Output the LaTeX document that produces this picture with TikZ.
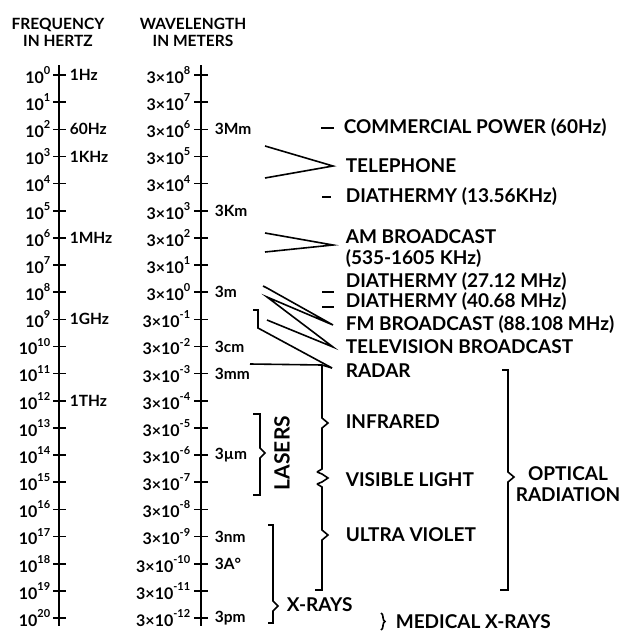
\documentclass[tikz,border=0pt]{standalone}
\usepackage{fontspec}
\setmainfont{Lato}
\usetikzlibrary{decorations.pathreplacing}
\newcommand\pw[1]{\raisebox{.55em}{\fontsize{11}{11}\selectfont#1}}

\begin{document}
\begin{tikzpicture}[x=1pt, y=-1pt, line width=1.6pt,
  axis/.style={line width=2.2pt},
  head/.style={font=\bfseries\fontsize{15.5}{17}\selectfont, align=center},
  num/.style={anchor=east, inner sep=0pt, font=\bfseries\fontsize{16}{16}\selectfont},
  unit/.style={anchor=west, inner sep=0pt, font=\bfseries\fontsize{15.5}{15}\selectfont},
  band/.style={anchor=west, inner sep=0pt, font=\bfseries\fontsize{19}{21}\selectfont}]
\useasboundingbox (0,0) rectangle (638,632);

% headings
\node[head] (fhead) at (58,32) {FREQUENCY\\IN HERTZ};
\node[head] (whead) at (193,32) {WAVELENGTH\\IN METERS};

% the two scales
\draw[axis] (59,65) -- (59,626);
\draw[axis] (201,65) -- (201,626);
\foreach \n in {0,...,20} {
  \pgfmathsetmacro\y{75+27.15*\n}
  \pgfmathtruncatemacro\e{8-\n}
  \draw (53,\y) -- (66,\y);
  \draw (194,\y) -- (208,\y);
  \node[num] (f\n) at (51,\y) {10\pw{\n}};
  \node[num] (w\n) at (191,\y) {3×10\pw{\e}};
}
\foreach \n/\t in {0/1Hz, 2/60Hz, 3/1KHz, 6/1MHz, 9/1GHz, 12/1THz}
  \node[unit] (fu\n) at ([xshift=18pt]f\n.east) {\t};
\foreach \n/\t in {2/3Mm, 5/3Km, 8/3m, 10/3cm, 11/3mm, 14/3µm, 17/3nm, 18/3A°, 20/3pm}
  \node[unit] (wu\n) at ([xshift=23pt]w\n.east) {\t};

% radio bands
\node[band] (power) at (343,128) {COMMERCIAL POWER (60Hz)};
\draw ([xshift=-22pt]power.west) -- ([xshift=-9pt]power.west);
\node[band] (tel) at (345,166) {TELEPHONE};
\coordinate (telA) at (265,146);
\coordinate (telB) at (265,178);
\draw (telA) -- ([xshift=-12pt]tel.west) -- (telB);
\node[band] (dia1) at (345,197) {DIATHERMY (13.56KHz)};
\draw ([xshift=-23pt]dia1.west) -- ([xshift=-14pt]dia1.west);
\node[band, align=left] (am) at (345,249) {AM BROADCAST\\(535-1605 KHz)};
\coordinate (amA) at (265,233);
\coordinate (amB) at (265,252);
\coordinate (amTip) at (333,245);
\draw (amA) -- (amTip) -- (amB);
\node[band] (dia2) at (345,282) {DIATHERMY (27.12 MHz)};
\node[band] (dia3) at (345,302) {DIATHERMY (40.68 MHz)};
\draw (322,292) -- (334,292);
\draw (322,307) -- (334,307);
\node[band] (fm) at (345,325) {FM BROADCAST (88.108 MHz)};
\node[band] (tv) at (345,347) {TELEVISION BROADCAST};
\node[band] (radar) at (345,371) {RADAR};
\coordinate (fmA) at (267,288);
\coordinate (fmB) at (267,297);
\coordinate (tvB) at (267,320);
\draw (263,286) -- (fmA) -- ([xshift=-12pt]fm.west) -- (fmB) -- ([xshift=-12pt]tv.west) -- (tvB);
\coordinate (radA) at (253,310);
\coordinate (radB) at (250,364);
\coordinate (radTip) at (332,368);
\draw (radA) -- (258,310) -- (258,328) -- (radTip);
\draw (radB) -- (322,365) -- (radTip);

% optical bands
\draw (322,366) -- (322,418) -- (328,423) -- (322,428) -- (322,469) -- (317,472)
  (317,484) -- (322,487) -- (322,530) -- (328,535) -- (322,540) -- (322,590) -- (315,590);
\draw (317,472) -- (322,474) -- (328,478) -- (322,482) -- (317,484);
\node[band] (ir) at (345,422) {INFRARED};
\node[band] (vis) at (345,480) {VISIBLE LIGHT};
\node[band] (uv) at (345,535) {ULTRA VIOLET};
\draw (502,370) -- (508,370) -- (508,472) -- (514,477) -- (508,482) -- (508,590) -- (500,590);
\node[band, anchor=center, align=center] (optical) at (568,484) {OPTICAL\\RADIATION};

% lasers and x-rays
\draw (253,414) -- (260,414) -- (260,448) -- (265,453) -- (260,458) -- (260,495) -- (253,495);
\node[band, rotate=90, anchor=center, font=\bfseries\fontsize{21}{21}\selectfont] (lasers) at (282,453) {LASERS};
\draw (268,525) -- (273,525) -- (273,601) -- (278,606) -- (273,611) -- (273,623) -- (268,623);
\node[band] (xrays) at (286,605) {X-RAYS};
\draw[decorate, decoration={brace, amplitude=4pt}] (381,613) -- (381,630);
\node[band] (medical) at (395,622) {MEDICAL X-RAYS};
\end{tikzpicture}
\end{document}
